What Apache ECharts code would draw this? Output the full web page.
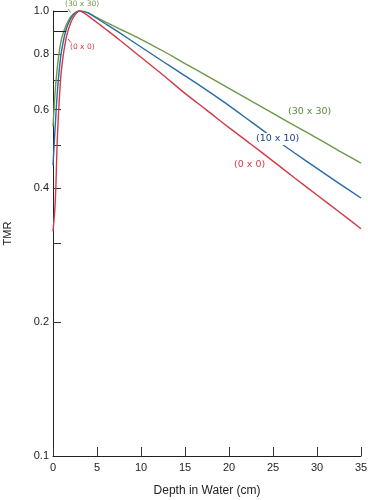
<!DOCTYPE html>
<html>
<head>
<meta charset="utf-8">
<script src="https://cdn.jsdelivr.net/npm/echarts@6/dist/echarts.min.js"></script>
<style>
html,body{margin:0;padding:0;background:#fff;}
#chart{width:368px;height:500px;}
</style>
</head>
<body>
<div id="chart"></div>
<script>
const depth = [0, 0.25, 0.5, 0.75, 1, 1.5, 2, 2.5, 3, 3.5, 4, 5, 6, 7.5, 10, 12.5, 15, 17.5, 20, 22.5, 25, 27.5, 30, 32.5, 35];
const tmr0x0   = [0.32, 0.37, 0.52, 0.65, 0.75, 0.87, 0.94, 0.98, 1.0, 0.99, 0.975, 0.942, 0.91, 0.863, 0.787, 0.718, 0.653, 0.598, 0.547, 0.502, 0.460, 0.421, 0.386, 0.354, 0.324];
const tmr10x10 = [0.45, 0.55, 0.66, 0.75, 0.82, 0.91, 0.96, 0.99, 1.0, 0.997, 0.99, 0.962, 0.935, 0.895, 0.830, 0.770, 0.715, 0.663, 0.613, 0.564, 0.519, 0.479, 0.443, 0.410, 0.380];
const tmr30x30 = [0.55, 0.66, 0.75, 0.82, 0.87, 0.93, 0.97, 0.99, 1.0, 0.998, 0.99, 0.966, 0.944, 0.913, 0.864, 0.813, 0.762, 0.715, 0.670, 0.628, 0.589, 0.552, 0.518, 0.485, 0.455];
const xTickValues = [0, 5, 10, 15, 20, 25, 30, 35];
const yLabelValues = [0.1, 0.2, 0.4, 0.6, 0.8, 1.0];
const yTickValues = [0.2, 0.3, 0.4, 0.5, 0.6, 0.7, 0.8, 0.9, 1.0];

const RED = '#d23a48', BLUE = '#2a6aa6', GREEN = '#6b9a48';
const FONT = 'Liberation Sans, Arial, sans-serif';
const LABELFONT = 'DejaVu Sans, sans-serif';

function pairs(ys){ return depth.map((d,i)=>[d, ys[i]]); }

const chart = echarts.init(document.getElementById('chart'), null, {renderer:'canvas'});
chart.setOption({
  animation:false,
  backgroundColor:'#fff',
  grid:{left:53, right:7, top:11, bottom:44, containLabel:false, outerBoundsMode:'none'},
  xAxis:{
    type:'value', min:0, max:35, interval:5,
    name:'Depth in Water (cm)', nameLocation:'middle', nameGap:29,
    nameTextStyle:{fontSize:12, color:'#222', fontFamily:FONT},
    axisLine:{show:true, lineStyle:{color:'#222', width:1}},
    axisTick:{show:true, inside:true, length:9, lineStyle:{color:'#333'}},
    axisLabel:{margin:6, fontSize:11, color:'#222', fontFamily:FONT},
    splitLine:{show:false}
  },
  yAxis:{
    type:'log', logBase:10, min:0.1, max:1.0,
    name:'TMR', nameLocation:'middle', nameRotate:90, nameGap:40,
    nameTextStyle:{fontSize:11, color:'#222', fontFamily:FONT},
    axisLine:{show:true, lineStyle:{color:'#222', width:1}},
    axisTick:{show:true, inside:true, length:8, customValues:yTickValues, lineStyle:{color:'#333'}},
    axisLabel:{margin:4, fontSize:11, color:'#222', fontFamily:FONT, customValues:yLabelValues,
      formatter:function(v){ return Number(v).toFixed(1); }},
    splitLine:{show:false}, minorTick:{show:false}
  },
  series:[
    {name:'(30 x 30)', type:'line', data:pairs(tmr30x30), smooth:0.35, showSymbol:false,
      lineStyle:{color:GREEN, width:1.4}, itemStyle:{color:GREEN},
      markLine:{silent:true, symbol:'none', label:{show:false},
        lineStyle:{color:'#222', width:1, type:'solid'},
        data:[[{coord:[0,1.0]},{coord:[1.7,1.0]}],[{coord:[0,0.9]},{coord:[1.5,0.9]}]]}},
    {name:'(10 x 10)', type:'line', data:pairs(tmr10x10), smooth:0.35, showSymbol:false,
      lineStyle:{color:BLUE, width:1.4}, itemStyle:{color:BLUE}},
    {name:'(0 x 0)', type:'line', data:pairs(tmr0x0), smooth:0.35, showSymbol:false,
      lineStyle:{color:RED, width:1.4}, itemStyle:{color:RED}}
  ],
  graphic:[
    {type:'text', z:100, left:65, top:0, style:{text:'(30 x 30)', fill:GREEN, font:'7.5px '+LABELFONT}},
    {type:'line', z:100, shape:{x1:68,y1:9,x2:70.5,y2:12.5}, style:{stroke:GREEN, lineWidth:1}},
    {type:'text', z:100, left:70, top:43, style:{text:'(0 x 0)', fill:RED, font:'7.5px '+LABELFONT}},
    {type:'line', z:100, shape:{x1:68,y1:39,x2:71,y2:42.5}, style:{stroke:RED, lineWidth:1}},
    {type:'text', z:100, left:288, top:107, style:{text:'(30 x 30)', fill:'#5a8a3c', font:'9.5px '+LABELFONT}},
    {type:'text', z:100, left:254, top:133, style:{text:'(10 x 10)', fill:'#24418a', font:'9.5px '+LABELFONT, backgroundColor:'#fff', padding:[1,2,1,2]}},
    {type:'text', z:100, left:234, top:160, style:{text:'(0 x 0)', fill:RED, font:'9.5px '+LABELFONT}}
  ]
});
</script>
</body>
</html>
